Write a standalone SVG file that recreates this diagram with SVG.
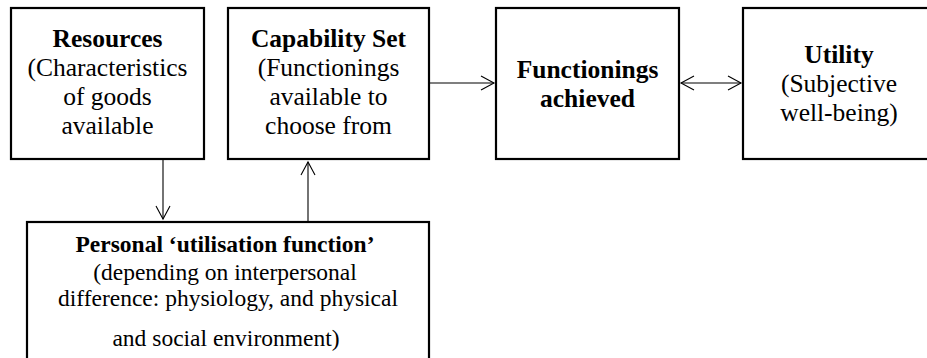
<svg xmlns="http://www.w3.org/2000/svg" width="927" height="358" viewBox="0 0 927 358">
<defs>
<style>
.box{fill:#fff;stroke:#000;stroke-width:2.2}
.t{font-family:"Liberation Serif","Times New Roman",serif;font-size:25.5px;fill:#000;text-anchor:middle}
.b{font-weight:bold}
.s{font-size:23.5px}
.c{stroke:#000;stroke-width:1.1;fill:none}
</style>
<marker id="ah" markerUnits="userSpaceOnUse" markerWidth="16" markerHeight="18" viewBox="0 0 16 18" refX="14" refY="9" orient="auto-start-reverse">
<path d="M1,2 L14,9 L1,16" fill="none" stroke="#000" stroke-width="1.1"/>
</marker>
</defs>
<rect width="927" height="358" fill="#fff"/>
<g id="connectors">
<line class="c" x1="163" y1="159" x2="163" y2="219" marker-end="url(#ah)"/>
<line class="c" x1="308" y1="222" x2="308" y2="162" marker-end="url(#ah)"/>
<line class="c" x1="429" y1="83" x2="494" y2="83" marker-end="url(#ah)"/>
<line class="c" x1="681" y1="83" x2="741" y2="83" marker-start="url(#ah)" marker-end="url(#ah)"/>
</g>
<g id="resources">
<rect class="box" x="11" y="8" width="193" height="151"/>
<text class="t b" x="107.5" y="47">Resources</text>
<text class="t" x="107.5" y="76">(Characteristics</text>
<text class="t" x="107.5" y="105">of goods</text>
<text class="t" x="107.5" y="134">available</text>
</g>
<g id="capability">
<rect class="box" x="228" y="8" width="201" height="151"/>
<text class="t b" x="328.5" y="47">Capability Set</text>
<text class="t" x="328.5" y="76">(Functionings</text>
<text class="t" x="328.5" y="105">available to</text>
<text class="t" x="328.5" y="134">choose from</text>
</g>
<g id="functionings">
<rect class="box" x="496" y="8" width="183" height="151"/>
<text class="t b" x="587.5" y="78">Functionings</text>
<text class="t b" x="587.5" y="107">achieved</text>
</g>
<g id="utility">
<rect class="box" x="743" y="8" width="200" height="151"/>
<text class="t b" x="839" y="63">Utility</text>
<text class="t" x="839" y="92">(Subjective</text>
<text class="t" x="839" y="121">well-being)</text>
</g>
<g id="personal">
<rect class="box" x="27" y="222" width="402" height="160"/>
<text class="t b s" x="225" y="252">Personal ‘utilisation function’</text>
<text class="t s" x="225" y="280">(depending on interpersonal</text>
<text class="t s" x="228" y="306">difference: physiology, and physical</text>
<text class="t s" x="226" y="346">and social environment)</text>
</g>
</svg>
